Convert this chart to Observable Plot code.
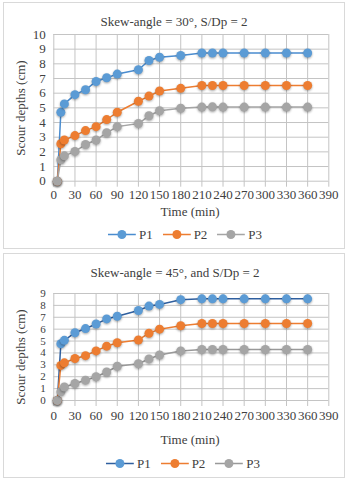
<!DOCTYPE html>
<html><head><meta charset="utf-8">
<script src="https://cdn.jsdelivr.net/npm/d3@7"></script>
<script src="https://cdn.jsdelivr.net/npm/@observablehq/plot@0.6"></script>
<style>
body{margin:0;background:#fff;width:348px;height:480px;position:relative;overflow:hidden;font-family:"Liberation Serif","Times New Roman",serif;color:#404040}
.panel{position:absolute;left:3px;width:342px;border:1px solid #d9d9d9;box-sizing:border-box}
.c{position:absolute;transform:translate(-50%,-50%);white-space:nowrap;font-size:13px;line-height:1}
.plot{position:absolute;left:0}
.plot g[aria-label="dot"] circle{filter:drop-shadow(0.8px 1.2px 0.8px rgba(0,0,0,0.35))}
.legend{position:absolute;display:flex;align-items:center;transform:translate(-50%,-50%);font-size:13px;line-height:1}
.legend .it{display:flex;align-items:center;margin:0 5px}
.legend span{margin-left:3px}
</style></head><body>
<div class="panel" style="top:2px;height:247px"></div>
<div class="panel" style="top:253px;height:225px"></div>
<script>
const names = ["P1", "P2", "P3"];
const dotColors = ["#5b9bd5", "#ed7d31", "#a5a5a5"];
const xTicks = [0, 30, 60, 90, 120, 150, 180, 210, 240, 270, 300, 330, 360, 390];
const times = [5, 10, 15, 30, 45, 60, 75, 90, 120, 135, 150, 180, 210, 225, 240, 270, 300, 330, 360];

// Skew-angle = 30°
const a30_P1 = [0, 4.7, 5.27, 5.9, 6.23, 6.8, 7.05, 7.3, 7.6, 8.23, 8.45, 8.57, 8.74, 8.74, 8.74, 8.74, 8.74, 8.74, 8.74];
const a30_P2 = [0, 2.55, 2.81, 3.11, 3.45, 3.72, 4.2, 4.7, 5.45, 5.8, 6.15, 6.33, 6.52, 6.52, 6.52, 6.52, 6.52, 6.52, 6.52];
const a30_P3 = [0, 1.46, 1.73, 2.03, 2.5, 2.81, 3.3, 3.72, 3.93, 4.46, 4.8, 4.97, 5.05, 5.07, 5.05, 5.05, 5.05, 5.05, 5.05];
const a30_lines = ["#4a8ccf", "#ed7d31", "#a5a5a5"];

// Skew-angle = 45°
const a45_P1 = [0, 4.77, 5.06, 5.7, 6.05, 6.43, 6.86, 7.09, 7.57, 7.94, 8.08, 8.48, 8.55, 8.55, 8.55, 8.55, 8.55, 8.55, 8.55];
const a45_P2 = [0, 2.95, 3.17, 3.53, 3.77, 4.17, 4.57, 4.86, 5.09, 5.66, 6.0, 6.29, 6.48, 6.48, 6.48, 6.48, 6.48, 6.48, 6.48];
const a45_P3 = [0, 0.74, 1.14, 1.43, 1.71, 2.0, 2.4, 2.88, 3.09, 3.5, 3.83, 4.17, 4.3, 4.3, 4.3, 4.3, 4.3, 4.3, 4.3];
const a45_lines = ["#2f5f9f", "#ed7d31", "#999999"];

const FONT = '"Liberation Serif","Times New Roman",serif';

function addText(txt, x, y, rot) {
  const d = document.createElement("div");
  d.className = "c";
  d.textContent = txt;
  d.style.left = x + "px"; d.style.top = y + "px";
  if (rot) d.style.transform = "translate(-50%,-50%) rotate(-90deg)";
  document.body.appendChild(d);
}

function addLegend(x, y, lineColors) {
  const L = document.createElement("div");
  L.className = "legend";
  L.style.left = x + "px"; L.style.top = y + "px";
  names.forEach((n, i) => {
    const it = document.createElement("div"); it.className = "it";
    it.innerHTML = `<svg width="28" height="10"><line x1="0" x2="28" y1="5" y2="5" stroke="${lineColors[i]}" stroke-width="1.5"/><circle cx="14" cy="5" r="4.5" fill="${dotColors[i]}"/></svg><span>${n}</span>`;
    L.appendChild(it);
  });
  document.body.appendChild(L);
}

function chart({series, lineColors, yMax, top, height, mt, mb, yFont, xPad}) {
  const yTicks = d3.range(0, yMax + 1);
  const marks = [
    Plot.gridX(xTicks, {stroke: "#c4c4c4", strokeOpacity: 1}),
    Plot.gridY(yTicks, {stroke: "#c4c4c4", strokeOpacity: 1}),
    Plot.axisX(xTicks, {tickSize: 6, tickPadding: xPad, stroke: "#c4c4c4", fill: "#404040", label: null}),
    Plot.axisY(yTicks, {tickSize: 0, tickPadding: 8, fill: "#404040", label: null, fontSize: yFont})
  ];
  series.forEach((vals, i) => {
    const data = times.map((t, j) => ({t, v: vals[j]}));
    marks.push(Plot.line(data, {x: "t", y: "v", stroke: lineColors[i], strokeWidth: 1.5}));
    marks.push(Plot.dot(data, {x: "t", y: "v", fill: dotColors[i], r: 4.5}));
  });
  const svg = Plot.plot({
    width: 348, height,
    marginTop: mt, marginBottom: mb, marginLeft: 53.3, marginRight: 19.7,
    style: {fontFamily: FONT, fontSize: "13px", color: "#404040", background: "transparent", overflow: "visible"},
    x: {domain: [0, 390]},
    y: {domain: [0, yMax]},
    marks
  });
  svg.classList.add("plot");
  svg.style.top = top + "px";
  document.body.appendChild(svg);
}

// top chart: plot area y 34 (10) to 180.7 (0)
chart({series: [a30_P1, a30_P2, a30_P3], lineColors: a30_lines, yMax: 10, top: 0, height: 210, mt: 34, mb: 29.3, yFont: 13, xPad: 2.5});
addText("Skew-angle = 30°, S/Dp = 2", 174, 20.5);
addText("Scour depths (cm)", 20, 107.5, true);
addText("Time (min)", 190, 211);
addLegend(185, 234, a30_lines);

// bottom chart: plot area y 293 (9) to 400 (0)
chart({series: [a45_P1, a45_P2, a45_P3], lineColors: a45_lines, yMax: 9, top: 253, height: 175, mt: 40, mb: 28, yFont: 11, xPad: 4});
addText("Skew-angle = 45°, and S/Dp = 2", 175, 272);
addText("Scour depths (cm)", 20, 357, true);
addText("Time (min)", 190, 439);
addLegend(183, 463, a45_lines);
</script>
</body></html>
